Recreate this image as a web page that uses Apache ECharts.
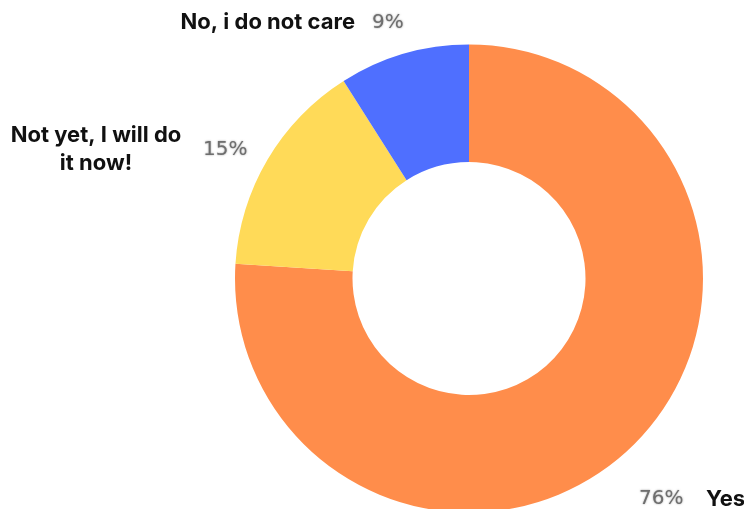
<!DOCTYPE html>
<html>
<head>
<meta charset="utf-8">
<script src="https://cdn.jsdelivr.net/npm/echarts@6/dist/echarts.min.js"></script>
<style>
  html, body { margin: 0; padding: 0; background: #ffffff; }
  #chart { width: 744px; height: 509px; }
</style>
</head>
<body>
<div id="chart"></div>
<script>
// Survey answers and their shares (percent)
const answers = ['Yes', 'Not yet, I will do\nit now!', 'No, i do not care'];
const shares = [76, 15, 9];
const colors = ['#FF8D4B', '#FFDA58', '#4F6FFF'];

const chart = echarts.init(document.getElementById('chart'), null, { renderer: 'canvas' });

const nameFont = { fontFamily: 'Inter', fontWeight: 'bold', fontSize: 22, fill: '#111111' };
const pctFont = {
  fontFamily: 'DejaVu Sans', fontWeight: 'normal', fontSize: 20, fill: '#6e6e6e',
  textShadowColor: 'rgba(110,110,110,0.7)', textShadowBlur: 2
};

// Placement of each answer's name and percentage around the ring
const labelSpots = [
  { name: { x: 706, y: 499, align: 'left' },   pct: { x: 639, y: 499 } },
  { name: { x: 96,  y: 149, align: 'center' }, pct: { x: 203, y: 150 } },
  { name: { x: 355, y: 22,  align: 'right' },  pct: { x: 372, y: 23 } }
];

const graphics = [];
answers.forEach((a, i) => {
  const s = labelSpots[i];
  graphics.push({
    type: 'text', silent: true,
    style: Object.assign({}, nameFont, {
      text: a, x: s.name.x, y: s.name.y,
      textAlign: s.name.align, textVerticalAlign: 'middle', lineHeight: 28
    })
  });
  graphics.push({
    type: 'text', silent: true,
    style: Object.assign({}, pctFont, {
      text: shares[i] + '%', x: s.pct.x, y: s.pct.y,
      textAlign: 'left', textVerticalAlign: 'middle'
    })
  });
});

chart.setOption({
  animation: false,
  color: colors,
  series: [{
    type: 'pie',
    center: [469, 278.5],
    radius: [116.5, 234],
    startAngle: 90,
    clockwise: true,
    label: { show: false },
    labelLine: { show: false },
    itemStyle: { borderWidth: 0 },
    data: answers.map((a, i) => ({ name: a, value: shares[i] }))
  }],
  graphic: graphics
});
</script>
</body>
</html>
